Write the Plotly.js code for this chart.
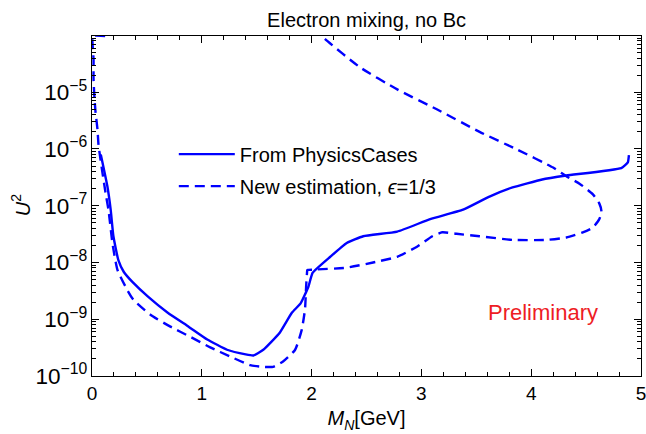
<!DOCTYPE html>
<html>
<head>
<meta charset="utf-8">
<script src="https://cdn.plot.ly/plotly-3.0.1.min.js"></script>
<style>
  html, body { margin: 0; padding: 0; background: #ffffff; }
  #chart { width: 646px; height: 434px; }
</style>
</head>
<body>
<div id="chart"></div>
<script>
// Sensitivity curve quoted from the physics-cases study (electron mixing, no Bc)
const massPhysicsCases = [0.08, 0.14, 0.17, 0.195, 0.24, 0.29, 0.37, 0.51, 0.69, 0.88, 1.05, 1.23, 1.40, 1.47, 1.56,
  1.71, 1.82, 1.90, 1.97, 2.01, 2.17, 2.32, 2.47, 2.78, 3.08, 3.38, 3.62, 3.83, 4.10, 4.32, 4.82, 4.88, 4.89];
const u2PhysicsCases = [8.0e-7, 2.2e-7, 8.5e-8, 2.9e-8, 1.1e-8, 6.8e-9, 4.5e-9, 2.5e-9, 1.3e-9, 7.4e-10, 4.4e-10, 2.9e-10, 2.4e-10, 2.3e-10, 2.9e-10,
  5.8e-10, 1.3e-9, 1.9e-9, 3.7e-9, 6.6e-9, 1.26e-8, 2.2e-8, 2.9e-8, 3.5e-8, 5.8e-8, 8.5e-8, 1.45e-7, 2.1e-7, 2.9e-7, 3.4e-7, 4.6e-7, 5.8e-7, 7.8e-7];

// Closed contour of the new estimate with epsilon = 1/3
const massNewEstimate = [0.12, 0.005, 0.005, 0.014, 0.014, 0.023, 0.032, 0.05, 0.059, 0.077, 0.123, 0.15, 0.186, 0.232,
  0.332, 0.377, 0.532, 0.714, 0.895, 1.077, 1.259, 1.44, 1.56, 1.65, 1.74, 1.85, 1.91, 1.94, 1.95, 1.96, 1.962,
  1.97, 2.03, 2.32, 2.56, 2.78, 2.96, 3.10, 3.19, 3.32, 3.53, 3.83, 4.14, 4.32, 4.47, 4.56, 4.62, 4.64, 4.62, 4.56,
  4.44, 4.32, 4.20, 3.87, 3.53, 3.14, 2.78, 2.44, 2.12, 2.09];
const u2NewEstimate = [9.8e-5, 9.8e-5, 7.1e-5, 3.8e-5, 1.7e-5, 7.6e-6, 4.5e-6, 2.2e-6, 1.2e-6, 6.6e-7, 1.7e-7, 8.5e-8, 2.2e-8, 7.4e-9,
  3.0e-9, 2.2e-9, 1.2e-9, 7.4e-10, 4.9e-10, 3.2e-10, 2.2e-10, 1.55e-10, 1.45e-10, 1.45e-10, 1.8e-10, 2.9e-10, 6.5e-10, 1.5e-9, 3.7e-9, 7.2e-9, 7.4e-9,
  7.4e-9, 7.5e-9, 8.1e-9, 1.0e-8, 1.26e-8, 1.9e-8, 2.9e-8, 3.4e-8, 3.2e-8, 2.9e-8, 2.5e-8, 2.5e-8, 2.75e-8, 3.4e-8, 4.1e-8, 5.8e-8, 7.9e-8, 1.1e-7, 1.6e-7,
  2.45e-7, 3.3e-7, 4.7e-7, 9.8e-7, 2.0e-6, 5.0e-6, 1.12e-5, 2.75e-5, 8.7e-5, 1.0e-4];

const seriesNames = ['From PhysicsCases', 'New estimation, <i>\u03f5</i>=1/3'];
const xTickValues = [0, 1, 2, 3, 4, 5];

const FONT = 'Liberation Sans, Arial, Helvetica, sans-serif';
const BLUE = '#0000ff';

const traces = [
  {
    x: massPhysicsCases, y: u2PhysicsCases, name: seriesNames[0],
    type: 'scatter', mode: 'lines', legendgroup: 'a',
    line: { color: BLUE, width: 2.4, shape: 'spline', smoothing: 0.4 }
  },
  {
    x: massNewEstimate, y: u2NewEstimate, name: seriesNames[1],
    type: 'scatter', mode: 'lines', legendgroup: 'b',
    line: { color: BLUE, width: 2.4, dash: '10px,6px', shape: 'spline', smoothing: 0.5 }
  }
];

const axisCommon = {
  showline: true, linecolor: '#000', linewidth: 1.2, mirror: 'ticks',
  ticks: 'inside', ticklen: 7, tickwidth: 1, tickcolor: '#000',
  showgrid: false, zeroline: false, automargin: false,
  tickfont: { family: FONT, size: 18, color: '#000' }
};

const layout = {
  width: 646, height: 434,
  margin: { l: 92, r: 5, t: 36, b: 58 },
  paper_bgcolor: '#fff', plot_bgcolor: '#fff',
  font: { family: FONT, color: '#000' },
  title: {
    text: 'Electron mixing, no Bc',
    font: { family: FONT, size: 20, color: '#000' },
    x: 0.5675, xanchor: 'center', y: 0.955, yanchor: 'middle'
  },
  xaxis: Object.assign({}, axisCommon, {
    range: [0, 5], tickvals: xTickValues, ticktext: xTickValues.map(String),
    ticklabeloverflow: 'allow',
    tickfont: { family: FONT, size: 19, color: '#000' },
    minor: { ticks: 'inside', ticklen: 4, dtick: 0.2, tickcolor: '#000' },
    title: { text: '<i>M</i><sub><i>N</i></sub>[GeV]', font: { family: FONT, size: 20, color: '#000' }, standoff: 8 }
  }),
  yaxis: Object.assign({}, axisCommon, {
    type: 'log', range: [-10, -4.01], dtick: 1, exponentformat: 'power',
    minor: { ticks: 'inside', ticklen: 4, dtick: 'D1', tickcolor: '#000' }
  }),
  showlegend: true,
  legend: {
    x: 0.149, xanchor: 'left', y: 0.71, yanchor: 'top',
    bgcolor: 'rgba(0,0,0,0)', borderwidth: 0,
    font: { family: FONT, size: 20, color: '#000' },
    itemwidth: 56, tracegroupgap: 3
  },
  annotations: [
    {
      // vertical axis title
      text: '<i>U</i><sup>2</sup>', xref: 'paper', yref: 'paper', x: -0.129, y: 0.503,
      xanchor: 'center', yanchor: 'middle', textangle: -90, showarrow: false,
      font: { family: FONT, size: 20, color: '#000' }
    },
    {
      text: 'Preliminary', xref: 'paper', yref: 'paper', x: 0.821, y: 0.188,
      xanchor: 'center', yanchor: 'middle', showarrow: false,
      font: { family: FONT, size: 22, color: '#ee1c24' }
    }
  ]
};

Plotly.newPlot('chart', traces, layout, { staticPlot: true, displayModeBar: false });
</script>
</body>
</html>
